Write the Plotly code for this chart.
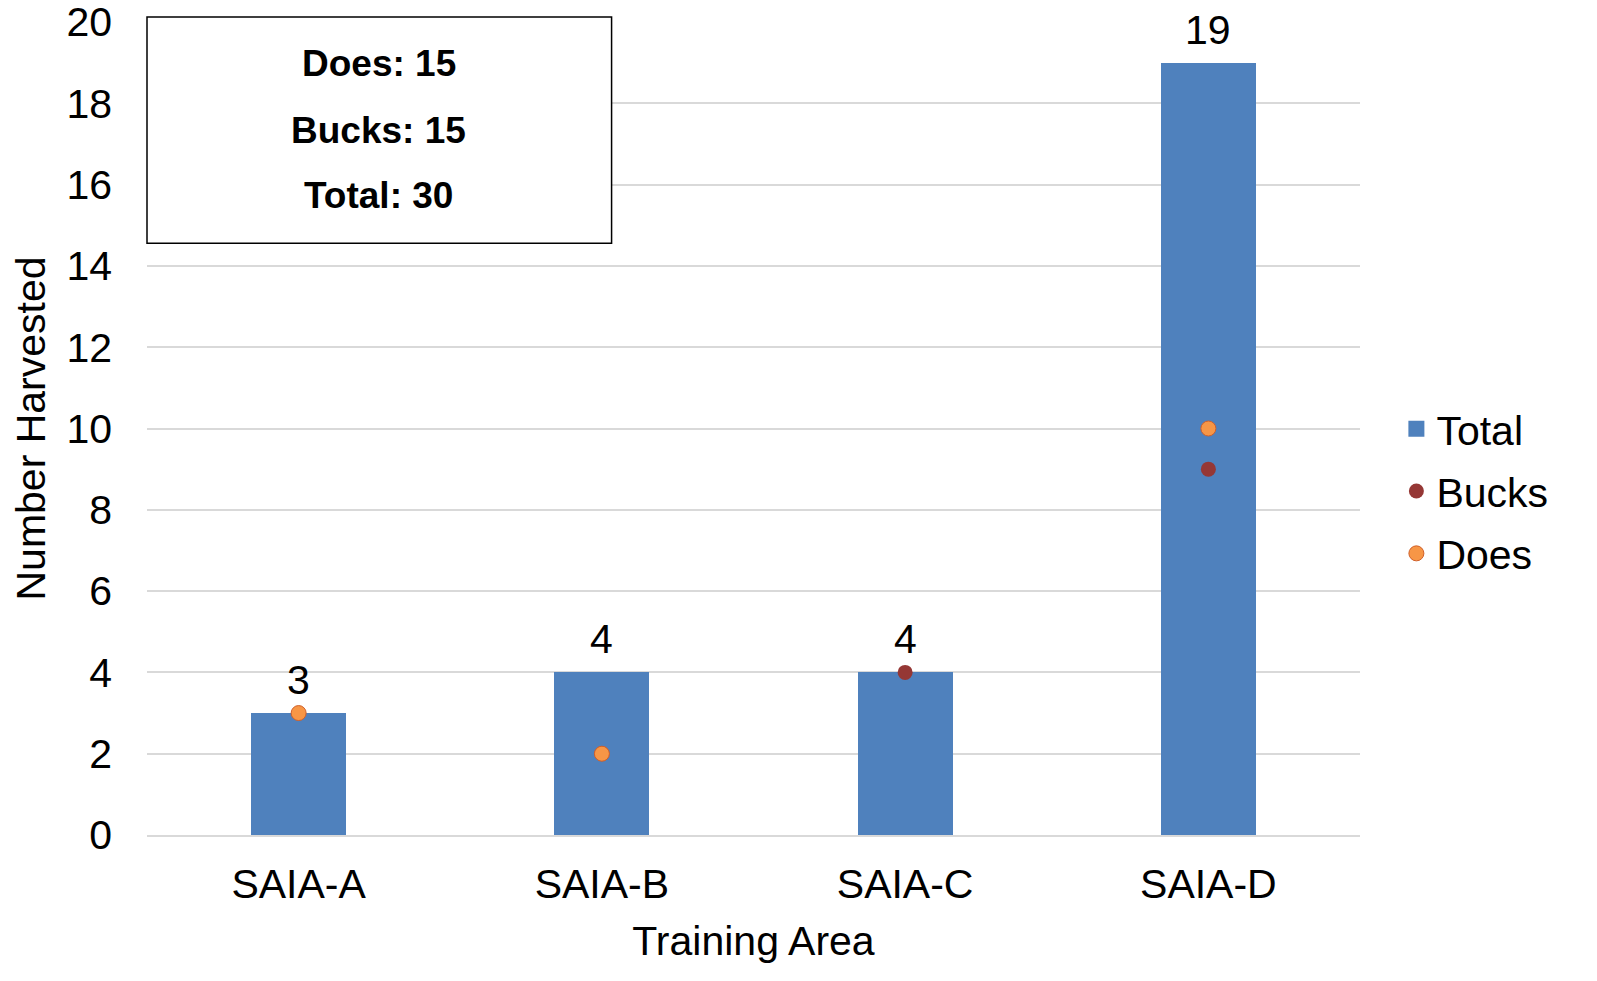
import plotly.graph_objects as go

categories = ["SAIA-A", "SAIA-B", "SAIA-C", "SAIA-D"]
total = [3, 4, 4, 19]
bucks = [0, 2, 4, 9]
does = [3, 2, 0, 10]
y_ticks = [0, 2, 4, 6, 8, 10, 12, 14, 16, 18, 20]

FONT = "Liberation Sans, Arial, sans-serif"
BAR_COLOR = "#4F81BD"

def nz(vals):
    return [v if v != 0 else None for v in vals]

fig = go.Figure()
fig.add_trace(go.Bar(
    x=categories, y=total, name="Total", legendgroup="t", showlegend=False,
    marker=dict(color=BAR_COLOR, line=dict(width=0)),
    width=0.313,
))
# legend entry for Total with a larger square symbol
fig.add_trace(go.Scatter(
    x=[None], y=[None], name="Total", legendgroup="t", mode="markers",
    marker=dict(color=BAR_COLOR, size=20, symbol="square"),
))
fig.add_trace(go.Scatter(
    x=categories, y=nz(bucks), name="Bucks", mode="markers", legendgroup="b",
    marker=dict(color="#953735", size=15, line=dict(width=0)),
    cliponaxis=False,
))
fig.add_trace(go.Scatter(
    x=categories, y=nz(does), name="Does", mode="markers", legendgroup="d",
    marker=dict(color="#F79646", size=15, line=dict(width=1, color="#D0602A")),
    cliponaxis=False,
))

for c, t in zip(categories, total):
    fig.add_annotation(x=c, y=t, text=str(t), showarrow=False,
                       yanchor="bottom", yshift=8,
                       font=dict(size=41, color="black", family=FONT))

fig.add_shape(type="rect", xref="paper", yref="paper",
              x0=0, x1=0.383, y0=0.728, y1=1.006,
              line=dict(color="black", width=1.5), fillcolor="white", layer="above")
summary_lines = [("Does", sum(does)), ("Bucks", sum(bucks)), ("Total", sum(total))]
for i, (lbl, v) in enumerate(summary_lines):
    ypx = [64, 130, 195][i]
    fig.add_annotation(xref="paper", yref="paper", x=0.191, y=(835 - ypx) / 813,
                       text=f"<b>{lbl}: {v}</b>", showarrow=False,
                       xanchor="center", yanchor="middle",
                       font=dict(size=37, color="black", family=FONT))

fig.update_layout(
    width=1597, height=981,
    margin=dict(l=147, r=237, t=22, b=146, autoexpand=False),
    paper_bgcolor="white", plot_bgcolor="white",
    font=dict(family=FONT, size=41, color="black"),
    showlegend=True,
    legend=dict(x=1.03, y=0.423, xanchor="left", yanchor="middle",
                font=dict(size=41, family=FONT), itemsizing="trace",
                tracegroupgap=6, bgcolor="rgba(0,0,0,0)"),
    xaxis=dict(
        title=dict(text="Training Area", font=dict(size=41), standoff=20),
        showgrid=False, showline=True, linecolor="#D9D9D9", linewidth=1.5,
        ticks="", tickfont=dict(size=41), range=[-0.5, 3.5], automargin=False,
        ticklabelstandoff=12,
    ),
    yaxis=dict(
        title=dict(text="Number Harvested", font=dict(size=41), standoff=8),
        range=[0, 20], tickvals=y_ticks, showgrid=True, gridcolor="#D9D9D9",
        gridwidth=1.5, zeroline=False, showline=False, ticks="",
        tickfont=dict(size=41), automargin=False, ticklabelstandoff=34,
        ticklabeloverflow="allow",
    ),
    bargap=0,
)

fig.write_html("out.html", config={"displayModeBar": False},
               post_script="document.body.style.margin='0';")
